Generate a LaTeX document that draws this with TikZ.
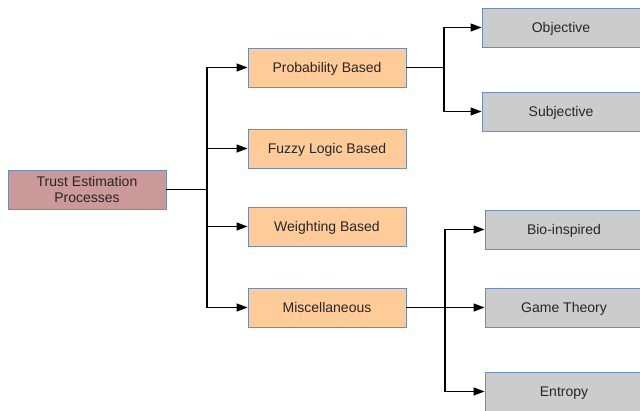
\documentclass[tikz,border=0pt]{standalone}
\usepackage{fontspec}
\setmainfont{Liberation Sans}
\usetikzlibrary{arrows.meta}
\definecolor{rootfill}{HTML}{CC9999}
\definecolor{midfill}{HTML}{FFCC99}
\definecolor{leaffill}{HTML}{CCCCCC}
\definecolor{edge}{HTML}{6C8EBF}
\tikzset{
  box/.style={draw=edge, line width=0.9pt, rectangle, minimum width=158pt, minimum height=39pt, inner sep=0pt, align=center, font=\fontsize{14}{16.5}\selectfont, text=black!85, text depth=0pt},
  rootbox/.style={box, fill=rootfill},
  midbox/.style={box, fill=midfill},
  leafbox/.style={box, fill=leaffill},
  link/.style={draw=black, line width=1.2pt},
  arr/.style={link, -{Triangle[length=11pt,width=8pt]}},
}
\begin{document}
\begin{tikzpicture}[x=1pt,y=-1pt]
\useasboundingbox (0,0) rectangle (640,410);
\clip (0,0) rectangle (640,410);
\node[rootbox] (root) at (87,189.5) {Trust Estimation\\Processes};
\node[midbox] (prob) at (327,67.5) {Probability Based};
\node[midbox] (fuzzy) at (327,148.5) {Fuzzy Logic Based};
\node[midbox] (weight) at (327,226.5) {Weighting Based};
\node[midbox] (misc) at (327,307.5) {Miscellaneous};
\node[leafbox] (obj) at (561,27.5) {Objective};
\node[leafbox] (subj) at (561,111.5) {Subjective};
\node[leafbox] (bio) at (564,229.5) {Bio-inspired};
\node[leafbox] (game) at (564,307.5) {Game Theory};
\node[leafbox] (ent) at (564,391.5) {Entropy};
\coordinate (j1) at (207,189.5);
\coordinate (j2) at (444,67.5);
\coordinate (j3) at (445,307.5);
\draw[link] (root.east) -- (j1);
\draw[arr] (j1) |- (prob.west);
\draw[arr] (j1) |- (fuzzy.west);
\draw[arr] (j1) |- (weight.west);
\draw[arr] (j1) |- (misc.west);
\draw[link] (prob.east) -- (j2);
\draw[arr] (j2) |- (obj.west);
\draw[arr] (j2) |- (subj.west);
\draw[link] (misc.east) -- (j3);
\draw[arr] (j3) |- (bio.west);
\draw[arr] (j3) -- (game.west);
\draw[arr] (j3) |- (ent.west);
\end{tikzpicture}
\end{document}
